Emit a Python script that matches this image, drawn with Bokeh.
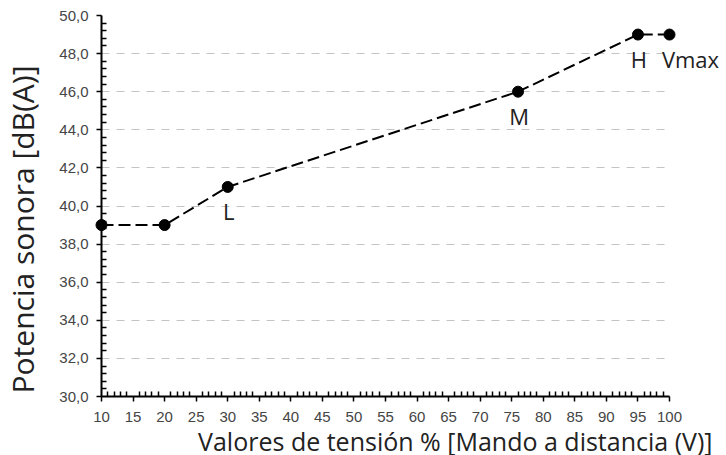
import math
from bokeh.plotting import figure
from bokeh.models import Range1d, FixedTicker, ColumnDataSource
from bokeh.core.properties import value
from bokeh.embed import file_html
from bokeh.resources import INLINE

# ---- data ----
tension = [10, 20, 30, 76, 95, 100]
potencia = [39.0, 39.0, 41.0, 46.0, 49.0, 49.0]
etiquetas = ["", "", "L", "M", "H", "Vmax"]

x_ticks = [10, 15, 20, 25, 30, 35, 40, 45, 50, 55, 60, 65, 70, 75, 80, 85, 90, 95, 100]
x_tick_labels = [str(t) for t in x_ticks]
y_ticks = [30, 32, 34, 36, 38, 40, 42, 44, 46, 48, 50]
y_tick_labels = ["30,0", "32,0", "34,0", "36,0", "38,0", "40,0", "42,0", "44,0", "46,0", "48,0", "50,0"]

x_label = "Valores de tensión % [Mando a distancia (V)]"
y_label = "Potencia sonora [dB(A)]"

TITLE_FONT = "Open Sans"
TICK_FONT = "Liberation Sans"

p = figure(width=726, height=455, output_backend="svg", toolbar_location=None,
           title=None,
           x_range=Range1d(x_ticks[0], x_ticks[-1]), y_range=Range1d(y_ticks[0], y_ticks[-1]),
           min_border_left=101, min_border_right=57, min_border_top=15, min_border_bottom=59)
p.outline_line_color = None
p.background_fill_color = "white"
p.border_fill_color = "white"

# grid
p.xgrid.visible = False
p.ygrid.ticker = FixedTicker(ticks=y_ticks[1:])
p.ygrid.grid_line_color = "#c4c4c4"
p.ygrid.grid_line_width = 1
p.ygrid.grid_line_dash = "8 7"

# axes
x_minor = [t + k for t in x_ticks[:-1] for k in range(1, 5)]
y_minor = [t + k * 0.4 for t in y_ticks[:-1] for k in range(1, 5)]
xa = p.xaxis[0]
ya = p.yaxis[0]
xa.ticker = FixedTicker(ticks=x_ticks, minor_ticks=x_minor)
ya.ticker = FixedTicker(ticks=y_ticks, minor_ticks=y_minor)
xa.major_label_overrides = {float(t): l for t, l in zip(x_ticks, x_tick_labels)}
ya.major_label_overrides = {float(t): l for t, l in zip(y_ticks, y_tick_labels)}

for ax in (xa, ya):
    ax.axis_line_color = "black"
    ax.axis_line_width = 2
    ax.major_tick_line_color = "black"
    ax.major_tick_line_width = 1.5
    ax.minor_tick_line_color = "black"
    ax.minor_tick_line_width = 1.5
    ax.major_tick_out = 5
    ax.major_tick_in = 0
    ax.minor_tick_in = 5
    ax.minor_tick_out = 0
    ax.major_label_text_font = TICK_FONT
    ax.major_label_text_font_size = "15px"
    ax.major_label_text_color = "#454545"
xa.major_label_standoff = 10
ya.major_label_standoff = 8

# axis titles, anchored at the axis ends
xt_src = ColumnDataSource(dict(x=[x_ticks[-1]], y=[y_ticks[0]], t=[x_label]))
yt_src = ColumnDataSource(dict(x=[x_ticks[0]], y=[y_ticks[0]], t=[y_label]))
gx = p.text("x", "y", text="t", source=xt_src, text_align="right", text_baseline="alphabetic",
            x_offset=43, y_offset=44, text_font=value(TITLE_FONT), text_font_size="25px",
            text_color="#222222")
gy = p.text("x", "y", text="t", source=yt_src, angle=math.pi / 2, text_align="left",
            text_baseline="alphabetic", x_offset=-79, y_offset=-3,
            text_font=value(TITLE_FONT), text_font_size="30px", text_color="#222222")
gx.level = "overlay"
gy.level = "overlay"

# data
src = ColumnDataSource(dict(x=tension, y=potencia))
p.line("x", "y", source=src, line_color="black", line_width=2, line_dash="12 5")
sc = p.scatter("x", "y", source=src, size=11, fill_color="black", line_color="black")
sc.level = "overlay"

mid = [(x, y, t) for x, y, t in zip(tension, potencia, etiquetas) if t and t != "Vmax"]
end = [(x, y, t) for x, y, t in zip(tension, potencia, etiquetas) if t == "Vmax"]
src_mid = ColumnDataSource(dict(x=[m[0] for m in mid], y=[m[1] for m in mid], t=[m[2] for m in mid]))
src_end = ColumnDataSource(dict(x=[m[0] for m in end], y=[m[1] for m in end], t=[m[2] for m in end]))
t1 = p.text("x", "y", text="t", source=src_mid, text_align="center", text_baseline="top",
            x_offset=1, y_offset=9, text_font=value(TITLE_FONT), text_font_size="22px",
            text_color="#222222")
t2 = p.text("x", "y", text="t", source=src_end, text_align="center", text_baseline="top",
            x_offset=21, y_offset=9, text_font=value(TITLE_FONT), text_font_size="22px",
            text_color="#222222")
t1.level = "overlay"
t2.level = "overlay"

open("out.html", "w").write(file_html(p, INLINE))
